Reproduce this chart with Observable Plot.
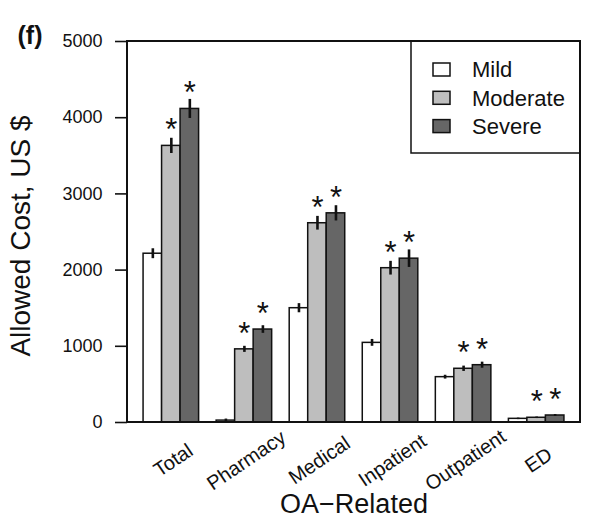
<!DOCTYPE html>
<html>
<head>
<meta charset="utf-8">
<script src="https://cdn.jsdelivr.net/npm/d3@7"></script>
<script src="https://cdn.jsdelivr.net/npm/@observablehq/plot@0.6"></script>
<style>
  html, body { margin: 0; padding: 0; background: #fff; }
  #chart svg { display: block; }
</style>
</head>
<body>
<div id="chart"></div>
<script>
// ---- data ----
const categories = ["Total", "Pharmacy", "Medical", "Inpatient", "Outpatient", "ED"];
const severities = ["Mild", "Moderate", "Severe"];
const mildCost     = [2215, 25, 1500, 1045, 595, 48];
const moderateCost = [3630, 960, 2615, 2025, 705, 62];
const severeCost   = [4115, 1220, 2745, 2150, 752, 92];
const mildErr      = [65, 20, 60, 45, 25, 10];
const moderateErr  = [100, 40, 90, 90, 35, 10];
const severeErr    = [125, 50, 100, 115, 40, 12];
const mildSig      = [false, false, false, false, false, false];
const moderateSig  = [true, true, true, true, true, true];
const severeSig    = [true, true, true, true, true, true];
const yTicks = [0, 1000, 2000, 3000, 4000, 5000];
const severityColors = ["#ffffff", "#bebebe", "#666666"];

const series = {
  Mild: {v: mildCost, e: mildErr, s: mildSig},
  Moderate: {v: moderateCost, e: moderateErr, s: moderateSig},
  Severe: {v: severeCost, e: severeErr, s: severeSig}
};
const rows = [];
severities.forEach(sev => {
  categories.forEach((cat, i) => {
    rows.push({cat, sev, value: series[sev].v[i], err: series[sev].e[i], sig: series[sev].s[i]});
  });
});

// ---- layout ----
const barW = 18.5; // one third of the band
const font = "'Liberation Sans', Arial, sans-serif";

const marks = [];
severities.forEach((sev, k) => {
  const data = rows.filter(d => d.sev === sev);
  const off = (k - 1) * barW;
  marks.push(Plot.barY(data, {
    x: "cat", y: "value", fill: "sev",
    insetLeft: k * barW, insetRight: (2 - k) * barW,
    stroke: "#111", strokeWidth: 1.5
  }));
  marks.push(Plot.ruleX(data, {
    x: "cat", y1: d => d.value - d.err, y2: d => d.value + d.err,
    dx: off, stroke: "#111", strokeWidth: 2.6
  }));
  marks.push(Plot.text(data.filter(d => d.sig), {
    x: "cat", y: "value", text: () => "*",
    dx: off, dy: -15.5, fontSize: 31, fill: "#111"
  }));
});

marks.push(Plot.text(categories, {
  x: d => d, frameAnchor: "bottom", dy: 38, dx: 2, rotate: -34,
  textAnchor: "middle", lineAnchor: "middle", fontSize: 20, fill: "#111"
}));
marks.push(Plot.text(["OA\u2212Related"], {
  frameAnchor: "bottom", dy: 90, textAnchor: "middle", lineAnchor: "bottom", fontSize: 27, fill: "#111"
}));
marks.push(Plot.text(["Allowed Cost, US $"], {
  frameAnchor: "left", dx: -106, dy: 4, rotate: -90,
  textAnchor: "middle", lineAnchor: "middle", fontSize: 28, fill: "#111"
}));
marks.push(Plot.text(["(f)"], {
  frameAnchor: "top-left", dx: -110, dy: -6, textAnchor: "start", lineAnchor: "middle",
  fontSize: 25, fontWeight: "bold", fill: "#111"
}));

const chart = Plot.plot({
  width: 597,
  height: 519,
  marginTop: 41,
  marginBottom: 97,
  marginLeft: 127,
  marginRight: 17,
  style: {fontFamily: font, fontSize: "18px", color: "#111", background: "#fff", overflow: "visible"},
  x: {domain: categories, paddingInner: 0.24, paddingOuter: 0.22, round: false, axis: null},
  y: {domain: [0, 5000], ticks: yTicks, tickSize: 12, tickPadding: 13, tickFormat: d => String(d), label: null},
  color: {domain: severities, range: severityColors},
  marks
});

// ---- legend (inside top-right corner of the frame) ----
const svg = d3.select(chart);
const color = chart.scale("color");
const lg = svg.append("g");
lg.append("rect")
  .attr("x", 411).attr("y", 41).attr("width", 169).attr("height", 112)
  .attr("fill", "#fff").attr("stroke", "#111").attr("stroke-width", 1.5);
severities.forEach((sev, i) => {
  const y = 63 + i * 28.3;
  lg.append("rect")
    .attr("x", 433).attr("y", y).attr("width", 17).attr("height", 13)
    .attr("fill", color.apply(sev)).attr("stroke", "#111").attr("stroke-width", 1.5);
  lg.append("text")
    .attr("x", 472).attr("y", y + 6.5).attr("dy", "0.36em")
    .attr("text-anchor", "start")
    .attr("font-size", 22).attr("fill", "#111").attr("font-family", font)
    .text(sev);
});
// frame drawn on top
const ys = chart.scale("y");
svg.append("rect")
  .attr("x", 127).attr("y", ys.apply(5000)).attr("width", 597 - 127 - 17)
  .attr("height", ys.apply(0) - ys.apply(5000))
  .attr("fill", "none").attr("stroke", "#111").attr("stroke-width", 2);
svg.selectAll("g[aria-label='y-axis tick'] path, g[aria-label='y-axis'] path").attr("stroke-width", 1.6);

document.getElementById("chart").appendChild(chart);
</script>
</body>
</html>
